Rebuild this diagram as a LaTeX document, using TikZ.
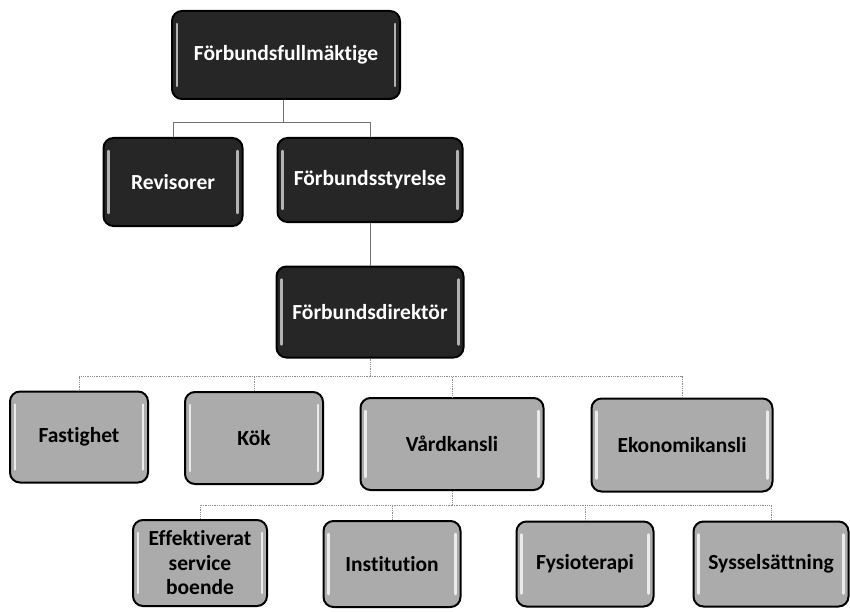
\documentclass[tikz,border=0pt]{standalone}
\usepackage{fontspec}
\setmainfont{Carlito}[Ligatures={NoCommon}]
\begin{document}
\begin{tikzpicture}[x=1pt,y=-1pt,
  box/.style={draw=black, line width=2pt, rounded corners=10pt, inner sep=0pt,
    font=\fontsize{21.5}{24.5}\selectfont\bfseries, align=center},
  darkbox/.style={box, fill=black!85, text=white},
  lightbox/.style={box, fill=black!33, text=black},
  conn/.style={draw=black!55, line width=0.8pt},
  lconn/.style={draw=black!45, line width=0.8pt, densely dotted},
  bevdark/.style={draw=black!30, line width=2.5pt, line cap=round},
  bevlight/.style={draw=black!8, line width=2.5pt, line cap=round}]
\useasboundingbox (0,0) rectangle (850,612);
\newcommand\bevel[2]{%
  \draw[#2] ([shift={(6pt,-14pt)}]#1.north west) -- ([shift={(6pt,14pt)}]#1.south west);
  \draw[#2] ([shift={(-6pt,-14pt)}]#1.north east) -- ([shift={(-6pt,14pt)}]#1.south east);}

% coordinates for connectors
\coordinate (j1) at (283,122);
\coordinate (j2) at (370,376);
\coordinate (j3) at (452,505);

% level 1
\node[darkbox, minimum width=228, minimum height=88] (full) at (286,55) {Förbundsfullmäktige};
% level 2
\node[darkbox, minimum width=139, minimum height=88] (rev) at (173,182) {Revisorer};
\node[darkbox, minimum width=185, minimum height=84] (sty) at (370,180) {Förbundsstyrelse};
% level 2b
\node[darkbox, minimum width=187, minimum height=91] (dir) at (370,312) {Förbundsdirektör};
% level 3
\node[lightbox, minimum width=138, minimum height=91] (fast) at (79,437) {Fastighet};
\node[lightbox, minimum width=138, minimum height=92] (kok) at (254,438) {Kök};
\node[lightbox, minimum width=183, minimum height=92] (vard) at (452,444) {Vårdkansli};
\node[lightbox, minimum width=181, minimum height=93] (eko) at (682,445) {Ekonomikansli};
% level 4
\node[lightbox, minimum width=134, minimum height=86] (eff) at (200,563) {Effektiverat\\service\\boende};
\node[lightbox, minimum width=137, minimum height=86] (inst) at (392,564) {Institution};
\node[lightbox, minimum width=137, minimum height=85] (fys) at (585,564) {Fysioterapi};
\node[lightbox, minimum width=155, minimum height=85] (sys) at (771,564) {Sysselsättning};

\foreach \n in {full,rev,sty,dir} {\bevel{\n}{bevdark}}
\foreach \n in {fast,kok,vard,eko,eff,inst,fys,sys} {\bevel{\n}{bevlight}}

% connectors
\draw[conn] (full.south -| j1) -- (j1);
\draw[conn] (j1) -| (rev.north);
\draw[conn] (j1) -| (sty.north);
\draw[conn] (sty.south) -- (dir.north);
\draw[lconn] (dir.south) -- (j2);
\foreach \n in {fast,kok,vard,eko} {\draw[lconn] (j2) -| (\n.north);}
\draw[lconn] (vard.south) -- (j3);
\foreach \n in {eff,inst,fys,sys} {\draw[lconn] (j3) -| (\n.north);}
\end{tikzpicture}
\end{document}
